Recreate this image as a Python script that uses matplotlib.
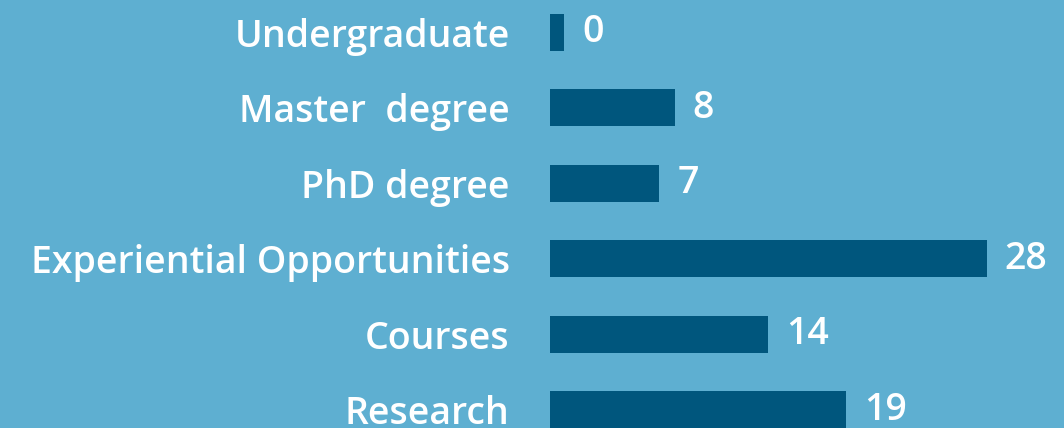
import numpy as np
import matplotlib
matplotlib.use("Agg")
import matplotlib.pyplot as plt

# categories top to bottom, with counts
categories = ["Undergraduate", "Master  degree", "PhD degree",
              "Experiential Opportunities", "Courses", "Research"]
counts = [0, 8, 7, 28, 14, 19]

bg = "#5eafd1"
bar_col = "#00567d"

plt.rcParams['font.family'] = ['Open Sans', 'DejaVu Sans']

fig = plt.figure(figsize=(10.64, 4.28), dpi=100, facecolor=bg)
ax = fig.add_axes([550 / 1064, 0, 514 / 1064, 1])
ax.set_facecolor(bg)

y = np.arange(len(categories))
# zero still gets a small stub so it is visible
shown = np.maximum(np.array(counts, dtype=float), 0.9)
ax.barh(y, shown, height=0.49, color=bar_col)

for yi, v, w in zip(y, counts, shown):
    ax.annotate(str(v), (w, yi), xytext=(13, 0), textcoords="offset points",
                va="center", ha="left", color="white", fontsize=27,
                fontweight="semibold")

ax.set_xlim(0, 514 / 15.6)
ax.set_ylim((428 - 32.5) / 75.4, -32.5 / 75.4)
ax.set_yticks(y)
ax.set_yticklabels(categories, color="white", fontsize=27,
                   fontweight="semibold")
ax.tick_params(axis="y", length=0, pad=29)
ax.set_xticks([])
for s in ax.spines.values():
    s.set_visible(False)

fig.savefig("out.png", dpi=100, facecolor=bg)
